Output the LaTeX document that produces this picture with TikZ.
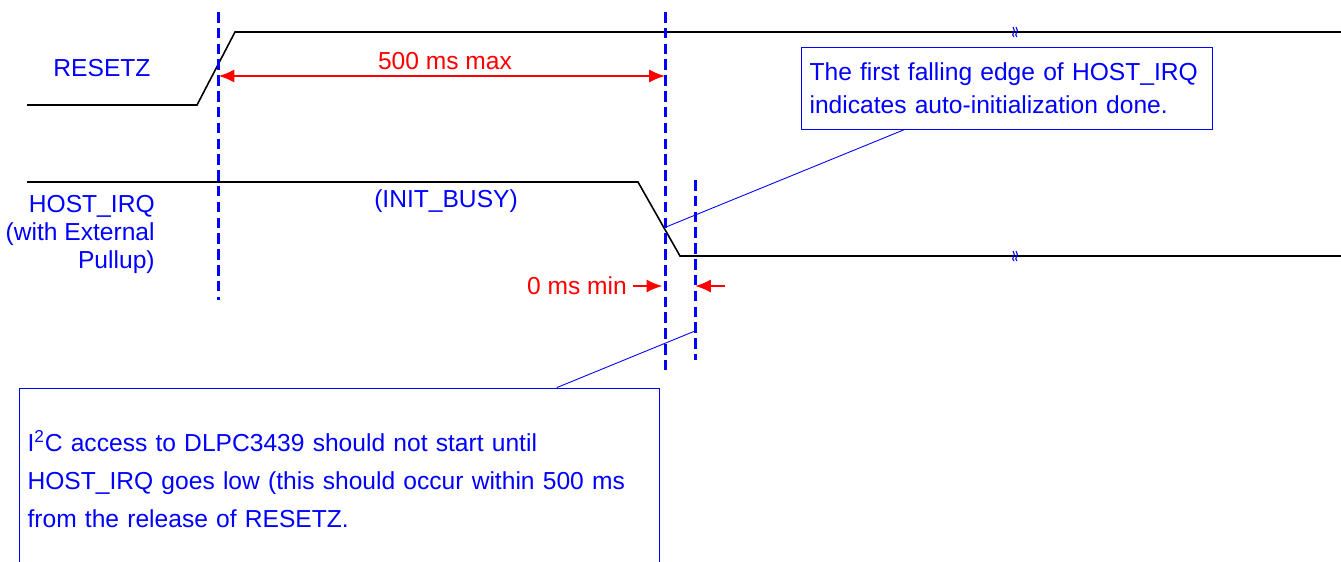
\documentclass[tikz,border=0pt]{standalone}
\usepackage{fontspec}
\setmainfont{Liberation Sans}
\usetikzlibrary{scopes,calc,arrows.meta}

\begin{document}
\begin{tikzpicture}[
    x=0.02cm,y=-0.02cm,
    signal/.style={draw=black,line width=0.9pt},
    guide/.style={draw=blue,line width=1.7pt,dash pattern=on 6pt off 3pt},
    timing/.style={draw=red,line width=1.1pt,>={Latex[length=9pt,width=7.5pt]}},
    tag/.style={text=blue,font=\fontsize{14}{15.9}\selectfont},
    redtag/.style={text=red,font=\fontsize{14}{16}\selectfont},
    note/.style={draw=blue,line width=0.5pt,text=blue,align=left,inner xsep=0.17cm},
    callout/.style={draw=blue,line width=0.5pt},
    brk/.style={draw=blue,line width=0.6pt},
]
\useasboundingbox (0,0) rectangle (1341,561);

\draw[signal] (27,105) -- (197,105) -- (235,32) -- (1341,32);
\draw[signal] (27,182) -- (638,182) -- (680,256) -- (1341,256);
{[brk]
    \draw (1014,37) .. controls (1010,34) and (1017,32) .. (1013,27);
    \draw (1017,37) .. controls (1013,34) and (1020,32) .. (1016,27);
    \draw (1014,261) .. controls (1010,258) and (1017,256) .. (1013,251);
    \draw (1017,261) .. controls (1013,258) and (1020,256) .. (1016,251);
}

\coordinate (rst) at (218.5,12);
\coordinate (rstend) at (218.5,300);
\coordinate (done) at (665,12);
\coordinate (doneend) at (665,375);
\coordinate (i2c) at (695,180);
\coordinate (i2cend) at (695,360);
{[guide]
    \draw (rst) -- (rstend);
    \draw (done) -- (doneend);
    \draw (i2c) -- (i2cend);
}

\node[tag] (rstlbl) at (102,68) {RESETZ};
\node[tag,align=right,anchor=base east,inner sep=0pt] (irqlbl) at (155,268) {HOST\_IRQ\\(with External\\Pullup)};
\node[tag,anchor=base] (busylbl) at (446,207) {(INIT\_BUSY)};

\node[redtag] (maxlbl) at (445,61) {500 ms max};
\node[redtag,anchor=east] (minlbl) at (633,286) {0 ms min};
{[timing]
    \draw[<->] (rst |- 0,76) -- (done |- 0,76);
    \draw[->,shorten >=1.5pt] (minlbl.east) -- (done |- minlbl.east);
    \draw[->] ($(i2c |- minlbl.east)+(30,0)$) -- (i2c |- minlbl.east);
}

\node[note,font=\fontsize{14}{18.7}\selectfont,minimum width=8.22cm,minimum height=1.64cm,text width=7.88cm] (donenote) at (1006.5,88)
    {The first falling edge of HOST\_IRQ\\indicates auto-initialization done.};
\node[note,font=\fontsize{14}{21.5}\selectfont,minimum width=12.8cm,minimum height=3.64cm,text width=12.46cm] (i2cnote) at (339,479)
    {I\textsuperscript{2}C access to DLPC3439 should not start until\\HOST\_IRQ goes low (this should occur within 500 ms\\from the release of RESETZ.};

\coordinate (firstedge) at (666,227);
\coordinate (i2cpt) at (695,331);
{[callout]
    \draw ($(donenote.south west)!0.253!(donenote.south east)$) -- (firstedge);
    \draw ($(i2cnote.north west)!0.84!(i2cnote.north east)$) -- (i2cpt);
}
\end{tikzpicture}
\end{document}
